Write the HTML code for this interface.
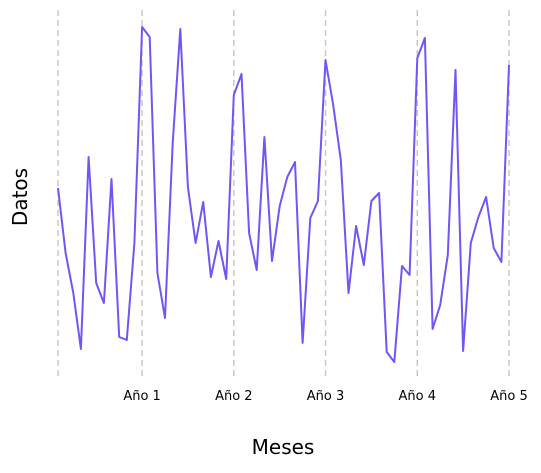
<!DOCTYPE html>
<html><head><meta charset="utf-8"><style>
body{margin:0;background:#fff}
svg text{font-family:"DejaVu Sans","Liberation Sans",sans-serif}
</style></head><body>
<svg id="chart" width="541" height="468" xmlns="http://www.w3.org/2000/svg">
<g id="grid"></g>
<g id="ticks"></g>
<path id="line" fill="none" stroke="#7057f5" stroke-width="2" stroke-linejoin="round"></path>
<text x="283" y="454" font-size="20" text-anchor="middle" fill="#000">Meses</text>
<text transform="translate(27,197) rotate(-90)" font-size="20" text-anchor="middle" fill="#000">Datos</text>
</svg>
<script>
const values=[190,125,85,29,221,95,75,199,41,38,135,351,341,105,60,235,349,191,135,176,101,137,99,283,304,145,108,241,117,172,201,216,35,160,177,318,273,218,85,152,113,177,185,26,16,112,103,320,340,49,73,123,308,27,135,161,181,130,116,313];
const tickIdx=[11,23,35,47,59];
const tickLabels=["Año 1","Año 2","Año 3","Año 4","Año 5"];
const gridIdx=[0,11,23,35,47,59];
const x0=58,x1=509,yBase=378;
const xs=i=>x0+(x1-x0)*i/(values.length-1);
const ys=v=>yBase-v;
const ns="http://www.w3.org/2000/svg";
const grid=document.getElementById('grid');
gridIdx.forEach(i=>{const l=document.createElementNS(ns,'line');


l.setAttribute('x1',xs(i));l.setAttribute('x2',xs(i));l.setAttribute('y1',10);l.setAttribute('y2',380);
l.setAttribute('stroke','#c8c8c8');l.setAttribute('stroke-width','1.5');l.setAttribute('stroke-dasharray','6,4');grid.appendChild(l);});
const ticks=document.getElementById('ticks');
tickIdx.forEach((i,k)=>{const t=document.createElementNS(ns,'text');


t.setAttribute('x',xs(i));t.setAttribute('y',400);t.setAttribute('font-size','13');t.setAttribute('text-anchor','middle');
t.textContent=tickLabels[k];ticks.appendChild(t);});
document.getElementById('line').setAttribute('d',values.map((v,i)=>(i?'L':'M')+xs(i).toFixed(1)+','+ys(v).toFixed(1)).join(''));
</script>
</body></html>
